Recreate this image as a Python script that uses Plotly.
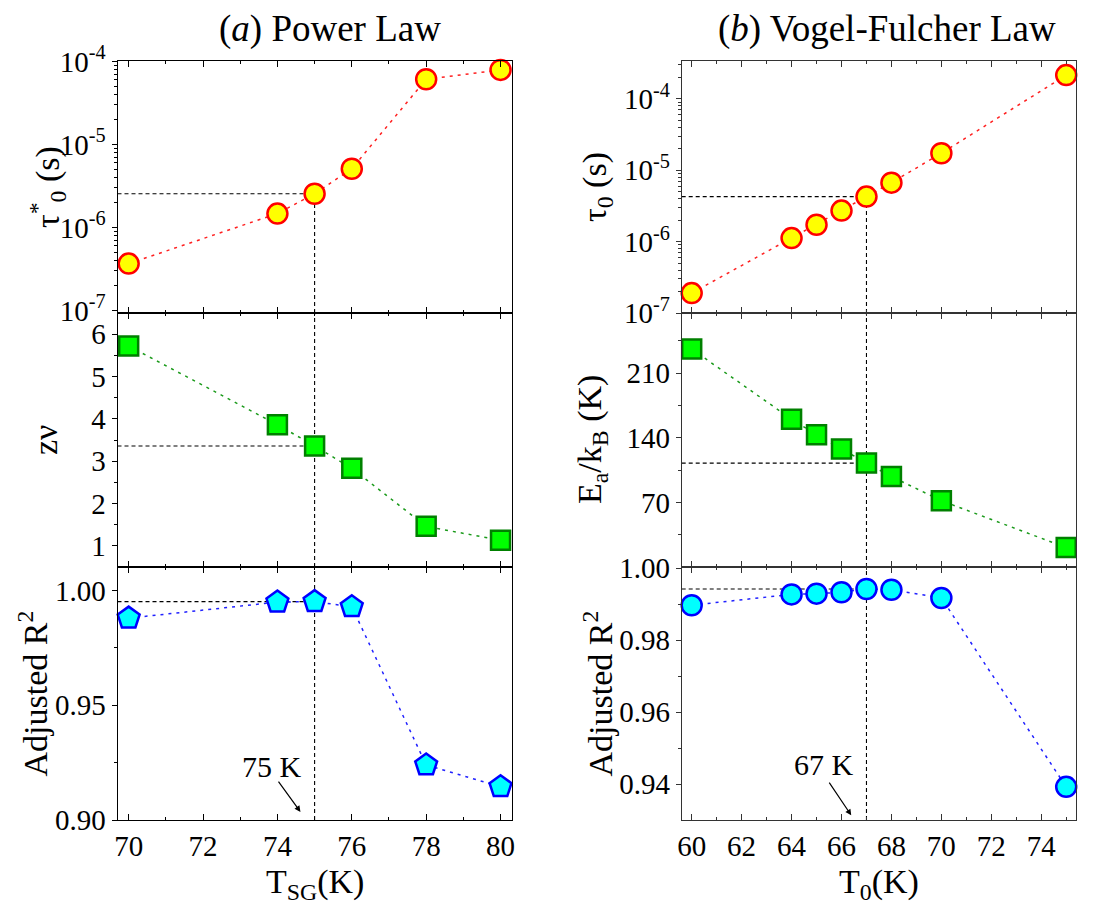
import plotly.graph_objects as go

# ---------------- data ----------------
T_sg = [70, 74, 75, 76, 78, 80]
tau_star = [3.67e-7, 1.47e-6, 2.55e-6, 5.1e-6, 6.1e-5, 7.9e-5]
z_nu = [5.72, 3.86, 3.36, 2.83, 1.46, 1.13]
r2_pl = [0.988, 0.995, 0.9952, 0.993, 0.924, 0.9145]

T0 = [60, 64, 65, 66, 67, 68, 70, 75]
tau0 = [1.9e-7, 1.12e-6, 1.72e-6, 2.72e-6, 4.27e-6, 6.7e-6, 1.73e-5, 2.15e-4]
Ea_kB = [236, 160, 143.3, 127.7, 112.5, 97.9, 71.8, 21]
r2_vf = [0.9897, 0.9927, 0.9929, 0.9933, 0.9942, 0.994, 0.9917, 0.9393]

best_pl = 75
best_vf = 67

# tick labels
xt_pl = [70, 72, 74, 76, 78, 80]
xt_vf = [60, 62, 64, 66, 68, 70, 72, 74]
log_exps = [-7, -6, -5, -4]
zn_ticks = [1, 2, 3, 4, 5, 6]
r2pl_ticks = [0.90, 0.95, 1.00]
ea_ticks = [70, 140, 210]
r2vf_ticks = [0.94, 0.96, 0.98, 1.00]

FONT = "Liberation Serif"
OFF = 8
W, H = 1095 - 2 * OFF, 914 - 2 * OFF


def px(x):
    return (x - OFF) / W


def py(y):
    return 1 - (y - OFF) / H


def lab(s):
    return f'<span style="font-family:\'Liberation Serif\',serif">{s}</span>'


fig = go.Figure()

xl = [px(117.5), px(511.7)]
xr = [px(681.7), px(1075.7)]
ytop = [py(313), py(61)]
ymid = [py(567), py(313)]
ybot = [py(820), py(567)]

ranges = {"L": [69.7, 80.3], "R": [59.6, 75.38]}
xticks = {"L": xt_pl, "R": xt_vf}
yranges = {
    1: [-7.03, -3.995],
    2: [0.5, 6.5],
    3: [0.9, 1.0103],
    4: [-7.0, -3.47],
    5: [0, 275],
    6: [0.9301, 1.0003],
}

panels = {
    1: ("L", ytop), 2: ("L", ymid), 3: ("L", ybot),
    4: ("R", ytop), 5: ("R", ymid), 6: ("R", ybot),
}

TF = dict(family=FONT, size=29, color="black")

for n, (side, ydom) in panels.items():
    axcol = "black" if side == "L" else "#333333"
    xname = "xaxis" if n == 1 else f"xaxis{n}"
    yname = "yaxis" if n == 1 else f"yaxis{n}"
    xv = xticks[side]
    xa = dict(
        domain=xl if side == "L" else xr,
        anchor=f"y{'' if n == 1 else n}",
        range=ranges[side], automargin=False,
        showgrid=False, zeroline=False,
        showline=True, linecolor=axcol, linewidth=1, mirror="allticks",
        ticks="inside", ticklen=6, tickwidth=1.2, tickcolor=axcol,
        tickvals=xv, ticktext=[lab(v) for v in xv],
        minor=dict(ticks="inside", ticklen=3, tickwidth=1, dtick=1, tick0=0, tickcolor=axcol, showgrid=False),
        showticklabels=(n in (3, 6)),
        tickfont=TF,
    )
    ya = dict(
        domain=ydom,
        anchor=f"x{'' if n == 1 else n}",
        range=yranges[n], automargin=False,
        showgrid=False, zeroline=False,
        showline=True, linecolor=axcol, linewidth=1, mirror=True,
        ticks="outside", ticklen=5, tickwidth=1.2, tickcolor=axcol,
        tickfont=TF,
    )
    if n in (1, 4):
        ya.update(type="log",
                  tickvals=[10.0 ** e for e in log_exps],
                  ticktext=[lab(f"10<sup>{e}</sup>") for e in log_exps],
                  minor=dict(ticks="outside", ticklen=3, tickwidth=1, tickcolor=axcol, showgrid=False, dtick="D1"))
    elif n == 2:
        ya.update(tickvals=zn_ticks, ticktext=[lab(v) for v in zn_ticks],
                  minor=dict(ticks="outside", ticklen=3, tickwidth=1, tickvals=[1.5, 2.5, 3.5, 4.5, 5.5], tickcolor=axcol))
    elif n == 3:
        ya.update(tickvals=r2pl_ticks, ticktext=[lab(f"{v:.2f}") for v in r2pl_ticks],
                  minor=dict(ticks="outside", ticklen=3, tickwidth=1, tickvals=[0.925, 0.975], tickcolor=axcol))
    elif n == 5:
        ya.update(tickvals=ea_ticks, ticktext=[lab(v) for v in ea_ticks],
                  minor=dict(ticks="outside", ticklen=3, tickwidth=1, tickvals=[35, 105, 175, 245], tickcolor=axcol))
    elif n == 6:
        ya.update(tickvals=r2vf_ticks, ticktext=[lab(f"{v:.2f}") for v in r2vf_ticks],
                  minor=dict(ticks="outside", ticklen=3, tickwidth=1, tickvals=[0.93, 0.95, 0.97, 0.99], tickcolor=axcol))
    fig.layout[xname] = xa
    fig.layout[yname] = ya


def ax(n):
    return ("x" if n == 1 else f"x{n}", "y" if n == 1 else f"y{n}")


ref = dict(color="black", width=1.1, dash="4px,3px")


def ref_lines(xs, ys_list, best, axes_n, side):
    i = xs.index(best)
    for n, ys in zip(axes_n, ys_list):
        xa_, ya_ = ax(n)
        yv = ys[i]
        lo, hi = yranges[n]
        if n in (1, 4):
            lo, hi = 10 ** lo, 10 ** hi
        x0 = ranges[side][0]
        fig.add_trace(go.Scatter(x=[x0, best], y=[yv, yv], mode="lines", line=ref,
                                 xaxis=xa_, yaxis=ya_, showlegend=False, hoverinfo="skip"))
        ytopv = yv if n in (1, 4) else hi
        fig.add_trace(go.Scatter(x=[best, best], y=[lo, ytopv], mode="lines", line=ref,
                                 xaxis=xa_, yaxis=ya_, showlegend=False, hoverinfo="skip"))


ref_lines(T_sg, [tau_star, z_nu, r2_pl], best_pl, [1, 2, 3], "L")
ref_lines(T0, [tau0, Ea_kB, r2_vf], best_vf, [4, 5, 6], "R")


def series(x, y, n, lc, fill, edge, symbol, size):
    xa_, ya_ = ax(n)
    fig.add_trace(go.Scatter(
        x=x, y=y, mode="lines+markers", xaxis=xa_, yaxis=ya_, showlegend=False,
        line=dict(color=lc, width=1.5, dash="3px,5px"),
        marker=dict(symbol=symbol, size=size, color=fill, line=dict(color=edge, width=2.5)),
        cliponaxis=False,
    ))


series(T_sg, tau_star, 1, "#ff2020", "#ffff00", "#ff0000", "circle", 20)
series(T_sg, z_nu, 2, "#1a9a1a", "#00ff00", "#008000", "square", 19)
series(T_sg, r2_pl, 3, "#2020ff", "#00ffff", "#0000ff", "pentagon", 23)
series(T0, tau0, 4, "#ff2020", "#ffff00", "#ff0000", "circle", 20)
series(T0, Ea_kB, 5, "#1a9a1a", "#00ff00", "#008000", "square", 19)
series(T0, r2_vf, 6, "#2020ff", "#00ffff", "#0000ff", "circle", 20)


def txt(text, x, y, size, angle=0, xref="paper", yref="paper"):
    return dict(text=text, x=x, y=y, xref=xref, yref=yref, xanchor="center", yanchor="middle",
                textangle=angle, showarrow=False, font=dict(family=FONT, size=size, color="black"))


ann = []
ann.append(txt("(<i>a</i>) Power Law", px(330), py(29), 37))
ann.append(txt("(<i>b</i>) Vogel-Fulcher Law", px(887), py(29), 37))

ytitles = [
    ("τ<sup>*</sup><sub>0</sub> (s)", 47, ytop),
    ("zν", 45, ymid),
    ("Adjusted R<sup>2</sup>", 32, ybot),
    ("τ<sub>0</sub> (s)", 597, ytop),
    ("E<sub>a</sub>/k<sub>B</sub> (K)", 592, ymid),
    ("Adjusted R<sup>2</sup>", 597, ybot),
]
for t, xp, dom in ytitles:
    ann.append(txt(t, px(xp), (dom[0] + dom[1]) / 2, 34, angle=-90))

ann.append(txt("T<sub>SG</sub>(K)", (xl[0] + xl[1]) / 2, py(884), 34))
ann.append(txt("T<sub>0</sub>(K)", (xr[0] + xr[1]) / 2, py(884), 34))

ann.append(txt("75 K", 73.85, 0.9235, 30, xref="x3", yref="y3"))
ann.append(dict(text="", x=74.62, y=0.9035, ax=74.0, ay=0.9174, xref="x3", yref="y3",
                axref="x3", ayref="y3", showarrow=True, arrowhead=2, arrowsize=1, arrowwidth=1.2,
                arrowcolor="black"))
ann.append(txt("67 K", 65.3, 0.9455, 30, xref="x6", yref="y6"))
ann.append(dict(text="", x=66.39, y=0.9314, ax=65.47, ay=0.9409, xref="x6", yref="y6",
                axref="x6", ayref="y6", showarrow=True, arrowhead=2, arrowsize=1, arrowwidth=1.2,
                arrowcolor="black"))

fig.update_layout(
    template="none",
    width=W, height=H,
    margin=dict(l=0, r=0, t=0, b=0, autoexpand=False),
    paper_bgcolor="white", plot_bgcolor="white",
    annotations=ann,
    showlegend=False,
    font=dict(family=FONT, color="black", size=29),
)

fig.write_html("out.html")
